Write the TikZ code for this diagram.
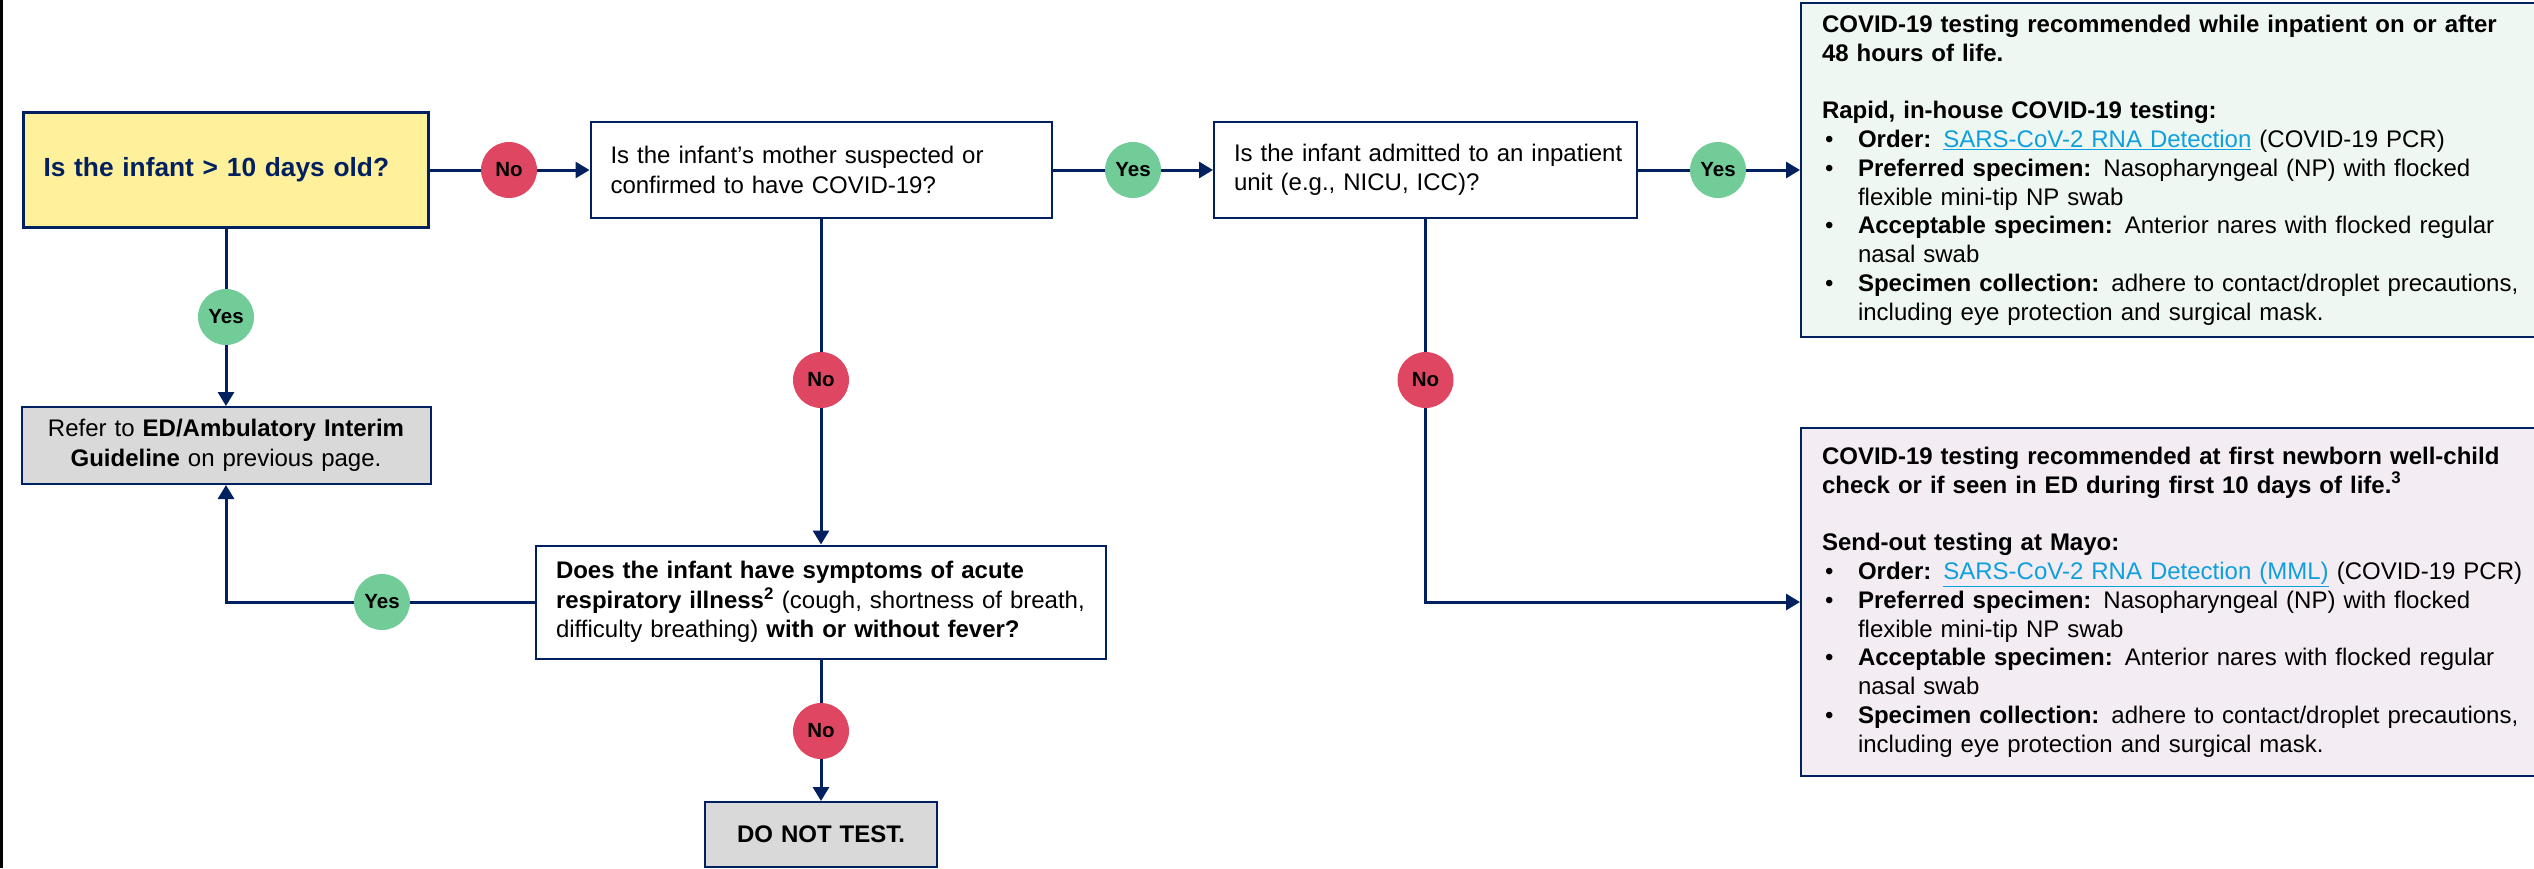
\documentclass[tikz,border=0pt]{standalone}
\usepackage{fontspec}
\setmainfont{Liberation Sans}
\usetikzlibrary{arrows.meta}

\definecolor{navy}{HTML}{002060}
\definecolor{yellowfill}{HTML}{FFF09B}
\definecolor{greyfill}{HTML}{D9D9D9}
\definecolor{mintfill}{HTML}{EEF7F2}
\definecolor{lilacfill}{HTML}{F3ECF3}
\definecolor{nored}{HTML}{DF4661}
\definecolor{yesgreen}{HTML}{72CC98}
\definecolor{linkblue}{HTML}{0FA0DC}

\newcommand{\itm}{\makebox[36pt][l]{\hspace{3pt}\textbullet}}
\newcommand{\ind}{\hspace*{36pt}}
\newcommand{\lnk}[1]{\textcolor{linkblue}{\underline{#1}}}

\begin{document}
\begin{tikzpicture}[x=1pt, y=-1pt,
    box/.style = {draw=navy, line width=2pt, align=left, inner xsep=20pt, inner ysep=0pt, font=\fontsize{24}{29.5}\selectfont},
    greybox/.style = {box, fill=greyfill, align=center},
    infobox/.style = {draw=navy, line width=2pt, anchor=west, align=left, inner xsep=21pt, inner ysep=0pt, minimum width=760pt, minimum height=334pt, text width=718pt, font=\fontsize{24}{28.8}\selectfont},
    badge/.style = {circle, minimum size=56pt, inner sep=0pt, font=\bfseries\fontsize{20.5}{24}\selectfont},
    nobadge/.style = {badge, fill=nored},
    yesbadge/.style = {badge, fill=yesgreen},
    wire/.style = {draw=navy, line width=3pt},
    arr/.style = {wire, -{Triangle[length=14pt, width=16pt]}}]
            \useasboundingbox (0,0) rectangle (2534,868);
            \draw[line width=3pt] (1.5,0) -- (1.5,868);

            % questions
            \node[box, line width=3.5pt, fill=yellowfill, text=navy, text width=365pt, minimum height=115pt, font=\bfseries\fontsize{26.3}{30}\selectfont] at (226,170) (age) {Is the infant > 10 days old?};
            \node[box, text width=421pt, minimum height=96pt] at (821,170) (mother) {Is the infant’s mother suspected or\\ confirmed to have COVID-19?};
            \node[box, inner xsep=20pt, text width=383pt, minimum height=96pt] at (1425.5,170) (admit) {\mbox{Is the infant admitted to an inpatient}\\ unit (e.g., NICU, ICC)?};
            \node[box, text width=530pt, minimum height=113pt] at (821,602) (sympt) {\textbf{Does the infant have symptoms of acute}\\ \textbf{respiratory illness\textsuperscript{2}} (cough, shortness of breath,\\ difficulty breathing) \textbf{with or without fever?}};

            % outcomes
            \node[greybox, text width=369pt, minimum height=77pt] at (226,445.5) (refer) {Refer to \textbf{ED/Ambulatory Interim}\\ \textbf{Guideline} on previous page.};
            \node[greybox, text width=192pt, minimum height=65pt, font=\bfseries\fontsize{24}{29.5}\selectfont] at (821,834.5) (dnt) {DO NOT TEST.};
            \node[infobox, fill=mintfill] at (1800,170) (inpt) {\textbf{COVID-19 testing recommended while inpatient on or after}\\ \textbf{48 hours of life.}\\ \mbox{}\\
                \textbf{Rapid, in-house COVID-19 testing:}\\
                \itm\textbf{Order:} \lnk{SARS-CoV-2 RNA Detection} (COVID-19 PCR)\\
                \itm\textbf{Preferred specimen:} Nasopharyngeal (NP) with flocked\\ \ind flexible mini-tip NP swab\\
                \itm\textbf{Acceptable specimen:} Anterior nares with flocked regular\\ \ind nasal swab\\
                \itm\textbf{Specimen collection:} adhere to contact/droplet precautions,\\ \ind including eye protection and surgical mask.};
            \node[infobox, fill=lilacfill, minimum height=348pt] at (1800,602) (mayo) {\textbf{COVID-19 testing recommended at first newborn well-child}\\ \textbf{check or if seen in ED during first 10 days of life.\textsuperscript{3}}\\ \mbox{}\\
                \textbf{Send-out testing at Mayo:}\\
                \itm\textbf{Order:} \lnk{SARS-CoV-2 RNA Detection (MML)} (COVID-19 PCR)\\
                \itm\textbf{Preferred specimen:} Nasopharyngeal (NP) with flocked\\ \ind flexible mini-tip NP swab\\
                \itm\textbf{Acceptable specimen:} Anterior nares with flocked regular\\ \ind nasal swab\\
                \itm\textbf{Specimen collection:} adhere to contact/droplet precautions,\\ \ind including eye protection and surgical mask.};

            % yes / no badges
            \node[nobadge] at (509,170) (nA) {No};
            \node[yesbadge] at (1133,170) (yB) {Yes};
            \node[yesbadge] at (1718,170) (yC) {Yes};
            \node[yesbadge] at (226,317) (yA) {Yes};
            \node[nobadge] at (821,380) (nB) {No};
            \node[nobadge] at (1425.5,380) (nD) {No};
            \node[yesbadge] at (382,602) (yD) {Yes};
            \node[nobadge] at (821,731) (nC) {No};

            \draw[wire] (age) -- (nA);
            \draw[arr] (nA) -- (mother);
            \draw[wire] (mother) -- (yB);
            \draw[arr] (yB) -- (admit);
            \draw[wire] (admit) -- (yC);
            \draw[arr] (yC) -- (inpt);
            \draw[wire] (age) -- (yA);
            \draw[arr] (yA) -- (refer);
            \draw[wire] (mother) -- (nB);
            \draw[arr] (nB) -- (sympt);
            \draw[wire] (sympt) -- (yD);
            \draw[arr] (yD) -| (refer);
            \draw[wire] (sympt) -- (nC);
            \draw[arr] (nC) -- (dnt);
            \draw[wire] (admit) -- (nD);
            \draw[arr] (nD) |- (mayo);
\end{tikzpicture}
\end{document}
